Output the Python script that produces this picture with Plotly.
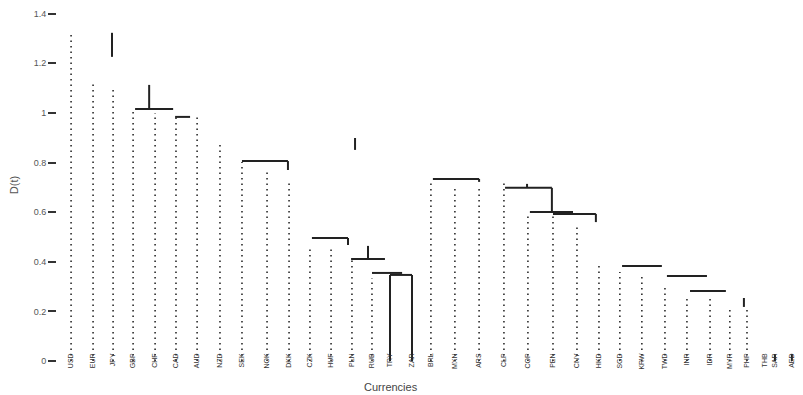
import plotly.graph_objects as go

# leaves, left to right (position in leaf slots)
currencies = ['USD', 'EUR', 'JPY', 'GBP', 'CHF', 'CAD', 'AUD', 'NZD', 'SEK', 'NOK',
              'DKK', 'CZK', 'HUF', 'PLN', 'RUB', 'TRY', 'ZAR', 'BRL', 'MXN', 'ARS',
              'CLP', 'COP', 'PEN', 'CNY', 'HKD', 'SGD', 'KRW', 'TWD', 'INR', 'IDR',
              'MYR', 'PHP', 'THB', 'SAR', 'AED']
leaf_pos = [0, 1, 1.91, 2.82, 3.82, 4.77, 5.73, 6.77, 7.77, 8.91,
            9.91, 10.86, 11.82, 12.77, 13.68, 14.5, 15.5, 16.36, 17.45, 18.55,
            19.68, 20.77, 21.91, 23, 24, 24.95, 25.95, 27, 28, 29.05,
            29.95, 30.73, 31.55, 32, 32.77]
leaf_top = [1.315, 1.117, 1.105, 1.012, 1.0, 0.988, 0.992, 0.871, 0.802, 0.762,
            0.722, 0.452, 0.464, 0.407, 0.335, 0.347, 0.347, 0.722, 0.71, 0.694,
            0.718, 0.597, 0.585, 0.548, 0.399, 0.359, 0.339, 0.306, 0.266, 0.254,
            0.206, 0.206, 0.0, 0.028, 0.028]
solid_leaves = [15, 16, 33, 34]

# merge bars: left, right, height
bar_left = [2.91, 4.73, 7.77, 10.95, 12.73, 13.68, 14.5, 16.45, 19.73, 20.86, 21.91, 25.05, 27.09, 28.14]
bar_right = [4.64, 5.41, 9.86, 12.59, 14.27, 15.05, 15.5, 18.55, 21.86, 22.82, 23.86, 26.86, 28.91, 29.77]
bar_height = [1.016, 0.984, 0.806, 0.496, 0.411, 0.355, 0.347, 0.734, 0.698, 0.601, 0.593, 0.383, 0.343, 0.282]

# loose vertical link pieces: x, from, to
link_x = [1.86, 3.55, 9.86, 12.59, 13.5, 12.91, 18.55, 20.73, 21.86, 23.86, 30.59]
link_lo = [1.226, 1.016, 0.77, 0.468, 0.411, 0.851, 0.722, 0.698, 0.601, 0.56, 0.218]
link_hi = [1.323, 1.113, 0.806, 0.496, 0.464, 0.899, 0.734, 0.714, 0.698, 0.593, 0.254]

yticks = [0, 0.2, 0.4, 0.6, 0.8, 1.0, 1.2, 1.4]
ytext = ['0', '0.2', '0.4', '0.6', '0.8', '1', '1.2', '1.4']

dx, dy, sx, sy = [], [], [], []
for i, (p, t) in enumerate(zip(leaf_pos, leaf_top)):
    if i in solid_leaves:
        sx += [p, p, None]
        sy += [0, t, None]
    elif t > 0:
        dx += [p, p, None]
        dy += [0, t, None]
for l, r, h in zip(bar_left, bar_right, bar_height):
    sx += [l, r, None]
    sy += [h, h, None]
for x, lo, hi in zip(link_x, link_lo, link_hi):
    sx += [x, x, None]
    sy += [lo, hi, None]

fig = go.Figure()
fig.add_trace(go.Scatter(x=dx, y=dy, mode='lines', hoverinfo='skip',
                         line=dict(color='#2a2a2a', width=1.6, dash='1.5px,4px')))
fig.add_trace(go.Scatter(x=sx, y=sy, mode='lines', hoverinfo='skip',
                         line=dict(color='#222222', width=2)))

# the page body adds an 8px offset, margins account for it
fig.update_layout(
    width=803, height=395,
    margin=dict(l=49, r=11, t=0, b=41),
    paper_bgcolor='white', plot_bgcolor='white',
    showlegend=False,
    font=dict(family='Liberation Sans, Arial, sans-serif', color='#444444', size=9),
)
fig.update_xaxes(
    range=[-0.64, 33.14], showgrid=False, zeroline=False, showline=False,
    tickvals=leaf_pos, ticktext=currencies, tickangle=-90, ticks='',
    tickfont=dict(size=7, color='#333333'), ticklabelstandoff=-11, automargin=False,
)
fig.update_yaxes(
    range=[-0.004, 1.423], showgrid=False, zeroline=False, showline=False,
    tickvals=yticks, ticktext=ytext, ticks='outside', ticklen=8, tickwidth=2,
    tickcolor='#333333', tickfont=dict(size=9, color='#555555'), automargin=False,
    title=dict(text='D(t)', font=dict(size=11, color='#555555'), standoff=17),
)
fig.add_annotation(text='Currencies', xref='paper', yref='paper', x=0.45, y=0,
                   yshift=-33, showarrow=False, font=dict(size=11, color='#444444'))

fig.write_html('out.html')
